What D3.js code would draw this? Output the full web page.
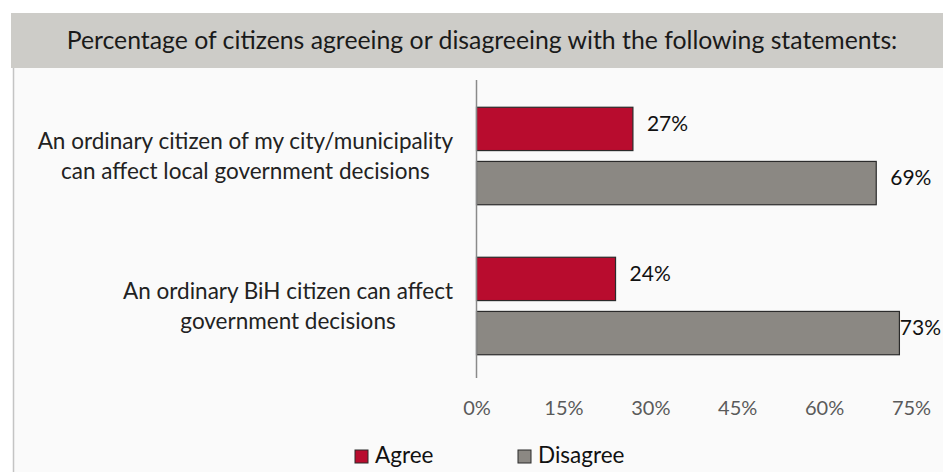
<!DOCTYPE html>
<html>
<head>
<meta charset="utf-8">
<script src="https://cdn.jsdelivr.net/npm/d3@7"></script>
<style>
  html, body { margin: 0; padding: 0; background: #ffffff; }
  svg { display: block; font-family: "Lato", "Open Sans", sans-serif; }
</style>
</head>
<body>
<svg id="chart" width="943" height="472"></svg>
<script>
// Survey statements (each label split into display lines)
const statements = [
  ["An ordinary citizen of my city/municipality", "can affect local government decisions"],
  ["An ordinary BiH citizen can affect", "government decisions"]
];
const seriesNames = ["Agree", "Disagree"];
const agreeValues = [27, 24];
const disagreeValues = [69, 73];
const tickValues = [0, 15, 30, 45, 60, 75];
const seriesColors = ["#b80c2e", "#8b8883"];

const svg = d3.select("#chart");
const W = 943, H = 472;

// Header band and panel
svg.append("rect").attr("x", 11).attr("y", 13).attr("width", W - 11).attr("height", 55).attr("fill", "#cdccc8");
svg.append("rect").attr("x", 13).attr("y", 68).attr("width", W - 13).attr("height", H - 68).attr("fill", "#fafafa");
svg.append("line").attr("x1", 13.5).attr("x2", 13.5).attr("y1", 68).attr("y2", H)
  .attr("stroke", "#c4c4c4").attr("stroke-width", 1.5);

svg.append("text")
  .attr("x", 482).attr("y", 49)
  .attr("text-anchor", "middle")
  .attr("font-size", 24.8)
  .attr("fill", "#1a1a1a")
  .text("Percentage of citizens agreeing or disagreeing with the following statements:");

// Scales
const x = d3.scaleLinear().domain([0, 75]).range([476.5, 911]);
const y0 = d3.scaleBand().domain(d3.range(statements.length)).range([81, 381]).paddingInner(0.35).paddingOuter(0.175);
const y1 = d3.scaleBand().domain(seriesNames).range([0, y0.bandwidth()]).paddingInner(0.2);

const rows = statements.map((s, i) => ({ i, values: [agreeValues[i], disagreeValues[i]] }));

const groups = svg.selectAll("g.grp").data(rows).join("g")
  .attr("class", "grp")
  .attr("transform", d => `translate(0,${y0(d.i)})`);

groups.selectAll("rect").data(d => d.values.map((v, k) => ({ v, k }))).join("rect")
  .attr("x", x(0))
  .attr("y", d => y1(seriesNames[d.k]))
  .attr("width", d => x(d.v) - x(0))
  .attr("height", y1.bandwidth())
  .attr("fill", d => seriesColors[d.k])
  .attr("stroke", "#2b2b2b")
  .attr("stroke-width", 1.2);

// Value labels, kept inside the right edge of the canvas
groups.selectAll("text.val").data(d => d.values.map((v, k) => ({ v, k }))).join("text")
  .attr("class", "val")
  .attr("y", d => y1(seriesNames[d.k]) + y1.bandwidth() / 2 - 3)
  .attr("dominant-baseline", "middle")
  .attr("font-size", 21)
  .attr("fill", "#111")
  .text(d => d.v + "%")
  .attr("x", function (d) {
    const w = this.getComputedTextLength();
    return Math.min(x(d.v) + 14, W - 2 - w);
  });

// Zero axis line
svg.append("line")
  .attr("x1", x(0)).attr("x2", x(0))
  .attr("y1", 80).attr("y2", 378)
  .attr("stroke", "#8a8a8a").attr("stroke-width", 1.5);

// Tick labels
const axis = d3.axisBottom(x).tickValues(tickValues).tickFormat(d => d + "%").tickSize(0).tickPadding(0);
const axisG = svg.append("g").attr("transform", "translate(0,401)").call(axis);
axisG.select(".domain").remove();
axisG.selectAll("text").attr("font-size", 20).attr("fill", "#5a5a5a").attr("font-family", "Lato, sans-serif");

// Category labels: block right-aligned, lines centred within the block
const labelRight = 453;
statements.forEach((lines, i) => {
  const cy = y0(i) + y0.bandwidth() / 2;
  const t = svg.append("text").attr("font-size", 22.5).attr("fill", "#222").attr("text-anchor", "middle");
  const spans = lines.map((ln, j) => t.append("tspan").text(ln));
  const maxW = d3.max(spans, s => s.node().getComputedTextLength());
  const cx = labelRight - maxW / 2;
  spans.forEach((s, j) => s.attr("x", cx).attr("y", cy + (j - (lines.length - 1) / 2) * 30 + 8));
});

// Legend
const legend = svg.append("g").attr("transform", "translate(355,457)");
const legendX = [0, 163];
seriesNames.forEach((name, k) => {
  const g = legend.append("g").attr("transform", `translate(${legendX[k]},0)`);
  g.append("rect").attr("x", 0).attr("y", -7).attr("width", 13).attr("height", 13)
    .attr("fill", seriesColors[k]).attr("stroke", "#2b2b2b").attr("stroke-width", 1);
  g.append("text").attr("x", 20).attr("y", 0).attr("dominant-baseline", "middle")
    .attr("font-size", 22.5).attr("fill", "#111").text(name);
});
</script>
</body>
</html>
